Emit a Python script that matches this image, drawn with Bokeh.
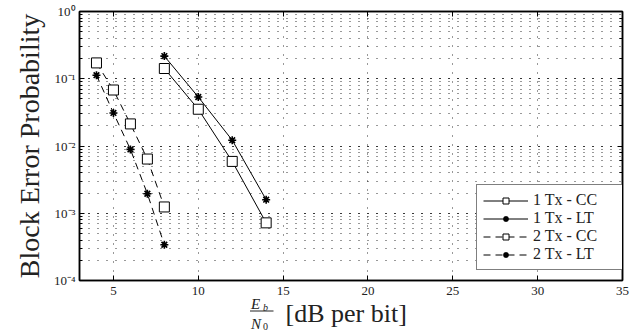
from bokeh.plotting import figure
from bokeh.layouts import column
from bokeh.models import (LogAxis, LinearAxis, Legend, LegendItem, CustomJSTickFormatter,
                          FixedTicker, Range1d)
from bokeh.core.properties import value
from bokeh.embed import file_html
from bokeh.resources import INLINE

# ---- data ----
snr_1tx = [8, 10, 12, 14]
cc_1tx = [0.142, 0.0352, 0.0059, 0.00072]
lt_1tx = [0.217, 0.0535, 0.0122, 0.00159]
snr_2tx = [4, 5, 6, 7, 8]
cc_2tx = [0.172, 0.068, 0.0213, 0.0064, 0.00124]
lt_2tx = [0.113, 0.031, 0.0089, 0.00195, 0.00034]
x_ticks = [5, 10, 15, 20, 25, 30, 35]
labels = ["1 Tx - CC", "1 Tx - LT", "2 Tx - CC", "2 Tx - LT"]

SERIF = "Liberation Serif"
INK = "#222222"

p = figure(frame_width=543, frame_height=269, x_range=Range1d(3, 35), y_range=Range1d(1e-4, 1),
           y_axis_type="log", output_backend="svg", toolbar_location=None,
           min_border_left=79, min_border_right=22, min_border_top=11, min_border_bottom=30)
p.outline_line_color = "black"
p.outline_line_width = 1.5

fmt = CustomJSTickFormatter(code="""
const sup = {"-":"\u207b","0":"\u2070","1":"\u00b9","2":"\u00b2","3":"\u00b3","4":"\u2074",
             "5":"\u2075","6":"\u2076","7":"\u2077","8":"\u2078","9":"\u2079"};
const e = Math.round(Math.log10(tick));
return "10" + String(e).split("").map(c => sup[c]).join("");
""")
blank = CustomJSTickFormatter(code="return '';")

for ax in (p.xaxis[0], p.yaxis[0]):
    ax.axis_line_color = "black"
    ax.axis_line_width = 1.5
    ax.major_tick_in = 5
    ax.major_tick_out = 0
    ax.minor_tick_in = 3
    ax.minor_tick_out = 0
    ax.major_tick_line_color = "black"
    ax.minor_tick_line_color = "black"
    ax.major_label_text_font = SERIF
    ax.major_label_text_font_size = "13px"
    ax.major_label_text_color = INK

p.xaxis.ticker = FixedTicker(ticks=x_ticks, minor_ticks=[])
p.xaxis.major_label_standoff = 6
p.yaxis.formatter = fmt
p.yaxis.major_label_standoff = 4
p.yaxis.axis_label = "Block Error Probability"
p.yaxis.axis_label_text_font = SERIF
p.yaxis.axis_label_text_font_style = "normal"
p.yaxis.axis_label_text_font_size = "28px"
p.yaxis.axis_label_text_color = INK
p.yaxis.axis_label_standoff = 6

r_ax = LogAxis(formatter=blank, major_tick_in=5, major_tick_out=0,
               minor_tick_in=3, minor_tick_out=0, major_label_standoff=0,
               axis_line_color="black", axis_line_width=1.5)
t_ax = LinearAxis(ticker=FixedTicker(ticks=x_ticks, minor_ticks=[]), formatter=blank,
                  major_tick_in=5, major_tick_out=0,
                  minor_tick_in=0, minor_tick_out=0, major_label_standoff=0,
                  axis_line_color="black", axis_line_width=1.5)
p.add_layout(r_ax, "right")
p.add_layout(t_ax, "above")

p.xgrid.ticker = FixedTicker(ticks=x_ticks, minor_ticks=[])
for g in (p.xgrid[0], p.ygrid[0]):
    g.grid_line_color = "black"
    g.grid_line_dash = "1 8"
    g.grid_line_alpha = 0.8
p.ygrid.minor_grid_line_color = "black"
p.ygrid.minor_grid_line_dash = "1 8"
p.ygrid.minor_grid_line_alpha = 0.8

l1 = p.line(snr_1tx, cc_1tx, line_color="black", line_width=1)
s1 = p.scatter(snr_1tx, cc_1tx, marker="square", size=10, fill_color="white",
               line_color="black", line_width=1)
l2 = p.line(snr_1tx, lt_1tx, line_color="black", line_width=1)
s2 = p.scatter(snr_1tx, lt_1tx, marker="asterisk", size=8, line_color="black", line_width=1.6)
l3 = p.line(snr_2tx, cc_2tx, line_color="black", line_width=1, line_dash="7 5")
s3 = p.scatter(snr_2tx, cc_2tx, marker="square", size=10, fill_color="white",
               line_color="black", line_width=1)
l4 = p.line(snr_2tx, lt_2tx, line_color="black", line_width=1, line_dash="7 5")
s4 = p.scatter(snr_2tx, lt_2tx, marker="asterisk", size=8, line_color="black", line_width=1.6)

legend = Legend(items=[LegendItem(label=labels[0], renderers=[l1, s1]),
                       LegendItem(label=labels[1], renderers=[l2, s2]),
                       LegendItem(label=labels[2], renderers=[l3, s3]),
                       LegendItem(label=labels[3], renderers=[l4, s4])],
                location=(397, 10))
legend.label_text_font = SERIF
legend.label_text_font_size = "16px"
legend.label_text_color = INK
legend.glyph_width = 45
legend.glyph_height = 15
legend.label_height = 15
legend.label_width = 85
legend.spacing = 0
legend.padding = 6
legend.margin = 0
legend.label_standoff = 5
legend.border_line_color = "black"
legend.border_line_width = 1
legend.background_fill_alpha = 1
p.add_layout(legend, "center")

# ---- x axis title  E_b / N_0 [dB per bit]  (transparent strip overlapping the bottom border) ----
p2 = figure(frame_width=543, frame_height=50, x_range=Range1d(79, 622), y_range=Range1d(0, 50),
            output_backend="svg", toolbar_location=None, x_axis_location=None,
            y_axis_location=None, min_border_left=79, min_border_right=22,
            min_border_top=0, min_border_bottom=0, outline_line_color=None,
            background_fill_alpha=0, border_fill_alpha=0)
p2.grid.visible = False
p2.styles = {"margin-top": "-27px"}
tkw = dict(text_font=value(SERIF), text_color=INK, text_baseline="alphabetic", text_align="left")
p2.text(x=[250.5], y=[29.5], text=["E"], text_font_size="15px", text_font_style="italic", **tkw)
p2.text(x=[262.5], y=[26.5], text=["b"], text_font_size="10px", text_font_style="italic", **tkw)
p2.segment(x0=[249.5], y0=[22.5], x1=[273], y1=[22.5], line_color=INK, line_width=1)
p2.text(x=[250.5], y=[10], text=["N"], text_font_size="15px", text_font_style="italic", **tkw)
p2.text(x=[262.5], y=[7.5], text=["0"], text_font_size="10px", **tkw)
p2.text(x=[285], y=[20.5], text=["[dB per bit]"], text_font_size="26px", **tkw)

layout = column(p, p2, spacing=0)
open("out.html", "w").write(file_html(layout, INLINE))
